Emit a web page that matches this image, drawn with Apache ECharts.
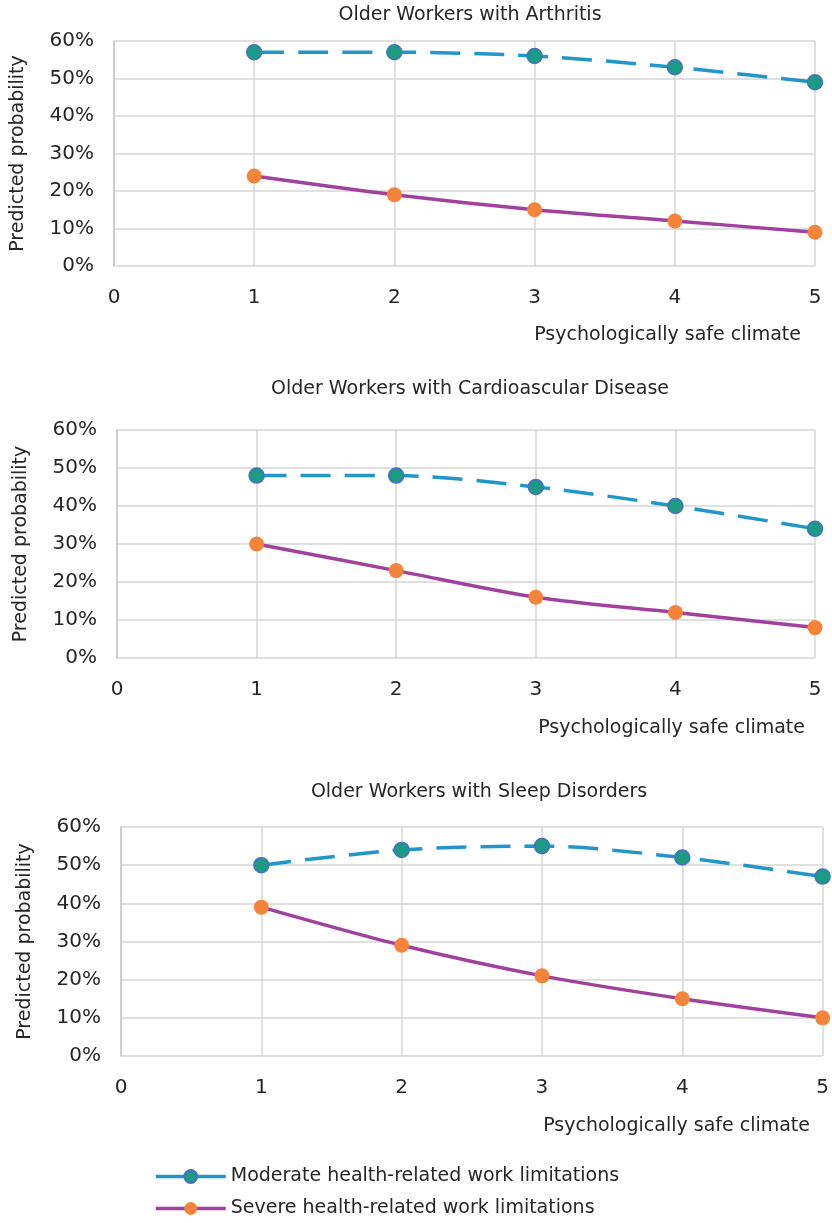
<!DOCTYPE html>
<html><head><meta charset="utf-8">
<script src="https://cdn.jsdelivr.net/npm/echarts@6/dist/echarts.min.js"></script>
<style>html,body{margin:0;padding:0;background:#fff}#c{width:832px;height:1223px}</style>
</head><body><div id="c"></div>
<script>
const titles = ['Older Workers with Arthritis','Older Workers with Cardioascular Disease','Older Workers with Sleep Disorders'];
const xValues = [1,2,3,4,5];
const moderateArthritis = [57,57,56,53,49];
const severeArthritis = [24,19,15,12,9];
const moderateCardio = [48,48,45,40,34];
const severeCardio = [30,23,16,12,8];
const moderateSleep = [50,54,55,52,47];
const severeSleep = [39,29,21,15,10];
const seriesNames = ['Moderate health-related work limitations','Severe health-related work limitations'];
const xName = 'Psychologically safe climate';
const yName = 'Predicted probability';

const FONT = 'DejaVu Sans';
const TXT = '#262626';
const grids = [
  {left:114, top:41, right:17, height:225},
  {left:117, top:430, right:17, height:228},
  {left:121, top:827, right:9, height:229}
];
const titleTops = [1, 375, 778];
const titleCenters = [465, 465, 474];
const xNameTops = [321, 714, 1112];
const xNameRights = [26, 22, 17];
const modData = [moderateArthritis, moderateCardio, moderateSleep];
const sevData = [severeArthritis, severeCardio, severeSleep];

const option = {
  animation:false,
  textStyle:{fontFamily:FONT},
  title:[],
  grid:grids,
  xAxis:[], yAxis:[], series:[],
  legend:{
    orient:'vertical', left:154, top:1167, height:56, padding:0, itemWidth:70, itemHeight:16, itemGap:13,
    data:seriesNames,
    textStyle:{fontFamily:FONT, fontSize:19, color:TXT},
    lineStyle:{type:'solid', width:3.5}
  }
};
for (let i=0;i<3;i++){
  option.title.push({text:titles[i], left:titleCenters[i], top:titleTops[i], textAlign:'center',
    textStyle:{fontFamily:FONT, fontSize:19, fontWeight:'normal', color:TXT}});
  option.title.push({text:xName, right:xNameRights[i], top:xNameTops[i],
    textStyle:{fontFamily:FONT, fontSize:19, fontWeight:'normal', color:TXT}});
  option.xAxis.push({type:'value', gridIndex:i, min:0, max:5, interval:1,
    axisLine:{show:false}, axisTick:{show:false},
    axisLabel:{fontSize:20, color:TXT, margin:22, fontFamily:FONT},
    splitLine:{show:true, lineStyle:{color:'#d6d6d6', width:1.5}}});
  option.yAxis.push({type:'value', gridIndex:i, min:0, max:60, interval:10,
    name:yName, nameLocation:'middle', nameGap:86,
    nameTextStyle:{fontSize:19, color:TXT, fontFamily:FONT},
    axisLine:{show:true, lineStyle:{color:'#c8c8c8', width:1.5}}, axisTick:{show:false},
    axisLabel:{fontSize:20, color:TXT, margin:20, fontFamily:FONT, formatter:v=>v+'%'},
    splitLine:{show:true, lineStyle:{color:'#d6d6d6', width:1.5}}});
  option.series.push({type:'line', name:seriesNames[0], xAxisIndex:i, yAxisIndex:i, smooth:0.3,
    data:xValues.map((x,k)=>[x, modData[i][k]]),
    symbol:'circle', symbolSize:15,
    itemStyle:{color:'#1b9a84', borderColor:'#4a6fc4', borderWidth:1.5},
    lineStyle:{color:'#2196c9', width:3.5, type:[30,14]}, z:3});
  option.series.push({type:'line', name:seriesNames[1], xAxisIndex:i, yAxisIndex:i, smooth:0.3,
    data:xValues.map((x,k)=>[x, sevData[i][k]]),
    symbol:'circle', symbolSize:15,
    itemStyle:{color:'#f4843a', borderWidth:0},
    lineStyle:{color:'#a0419e', width:3.5}, z:3});
}
const chart = echarts.init(document.getElementById('c'), null, {renderer:'canvas'});
chart.setOption(option);
</script></body></html>
